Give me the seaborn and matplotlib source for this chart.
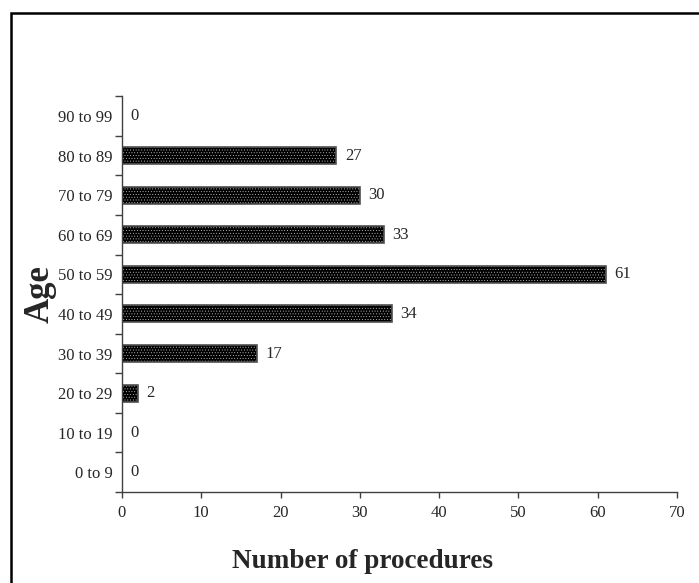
import numpy as np
import pandas as pd
import matplotlib
matplotlib.use("Agg")
import matplotlib.pyplot as plt
import seaborn as sns
from matplotlib.patches import Rectangle

# data
age_groups = ["90 to 99", "80 to 89", "70 to 79", "60 to 69", "50 to 59",
              "40 to 49", "30 to 39", "20 to 29", "10 to 19", "0 to 9"]
procedures = [0, 27, 30, 33, 61, 34, 17, 2, 0, 0]

df = pd.DataFrame({"Age": age_groups, "Number of procedures": procedures})

sns.set_style("white")
plt.rcParams['font.family'] = ['Liberation Serif', 'DejaVu Serif']
plt.rcParams['hatch.linewidth'] = 0.3

fig = plt.figure(figsize=(6.99, 5.83), dpi=100)
ax = fig.add_axes([0.1745, 0.156, 0.794, 0.679])

sns.barplot(data=df, y="Age", x="Number of procedures", order=age_groups,
            orient="h", color="black", width=0.43, ax=ax)

for p in ax.patches:
    p.set_facecolor("black")
    p.set_edgecolor("#d0d0d0")
    p.set_hatch("......")
    p.set_linewidth(0)
    # grey outline drawn separately
    ax.add_patch(Rectangle(p.get_xy(), p.get_width(), p.get_height(),
                           fill=False, edgecolor="#505050", linewidth=1.2, zorder=p.get_zorder() + 0.1))

for i, v in enumerate(procedures):
    ax.text(v + 1.1, i, str(v), va="center", ha="left", fontsize=12)

ax.set_xlim(0, 70)
ax.set_xticks(range(0, 71, 10))
ax.set_ylim(len(age_groups) - 0.5, -0.5)
ax.set_yticks(range(len(age_groups)))
ax.set_yticks(np.arange(-0.5, len(age_groups), 1), minor=True)
ax.tick_params(axis="y", which="major", length=0, labelsize=12, pad=7)
ax.tick_params(axis="y", which="minor", length=5, width=1, color="#404040", left=True)
ax.tick_params(axis="x", which="major", length=4, width=1, color="#404040",
               bottom=True, labelsize=12, pad=5)

sns.despine(ax=ax)
for s in ["left", "bottom"]:
    ax.spines[s].set_color("#404040")
    ax.spines[s].set_linewidth(1)

ax.set_xlabel("Number of procedures", fontsize=19.5, fontweight="bold")
ax.xaxis.set_label_coords((363 - 122) / 555, -0.145)
ax.set_ylabel("Age", fontsize=25, fontweight="bold")
ax.yaxis.set_label_coords(-0.118, 0.5)

# outer frame (top and left edges visible, right/bottom cropped)
fig.patches.append(Rectangle((11 / 699, -0.05), 1.0, 1 - 13 / 583 + 0.05,
                             transform=fig.transFigure, fill=False,
                             edgecolor="black", linewidth=1.8))

fig.savefig("out.png", dpi=100)
